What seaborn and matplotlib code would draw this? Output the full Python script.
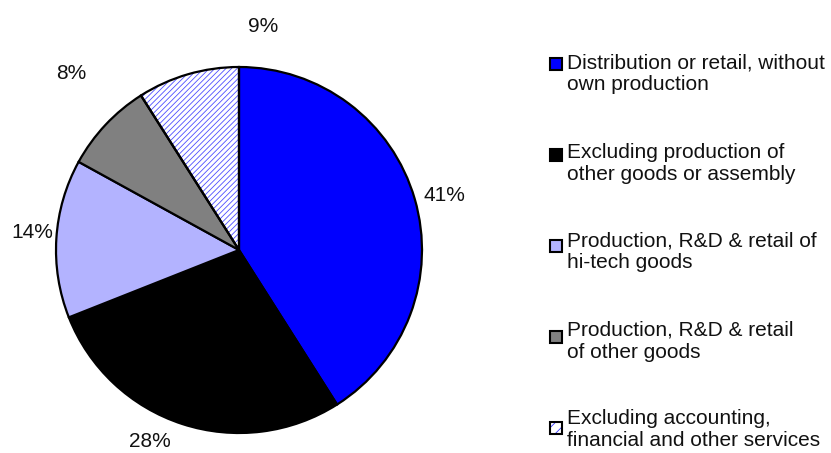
import matplotlib
matplotlib.use("Agg")
import matplotlib.pyplot as plt
from matplotlib.patches import Wedge, Rectangle
import seaborn as sns

# Business activity shares
categories = [
    "Distribution or retail, without\nown production",
    "Excluding production of\nother goods or assembly",
    "Production, R&D & retail of\nhi-tech goods",
    "Production, R&D & retail\nof other goods",
    "Excluding accounting,\nfinancial and other services",
]
shares = [41, 28, 14, 8, 9]
pct_labels = ["41%", "28%", "14%", "8%", "9%"]
colors = ["#0000FF", "#000000", "#B3B3FF", "#808080", "#FFFFFF"]
hatches = [None, None, None, None, "//////"]

# where each percentage label sits, in units of the pie radius
label_xy = [(1.12, 0.30), (-0.486, -1.044), (-1.131, 0.093), (-0.918, 0.967), (0.131, 1.219)]

sns.set_theme(style="white")
plt.rcParams["font.family"] = ["Liberation Sans", "DejaVu Sans"]
plt.rcParams["hatch.linewidth"] = 0.6

W, H, DPI = 831, 453, 100
fig = plt.figure(figsize=(W / DPI, H / DPI), dpi=DPI)
fig.patch.set_facecolor("white")

# pie axes: centre at (239, 250) px from top-left, radius 183 px
R = 183.0
cx, cy = 239.0, 250.0
ax = fig.add_axes([0, 0, (2 * cx) / W, 1])
wedges, _ = ax.pie(
    shares,
    colors=colors,
    startangle=90,
    counterclock=False,
    wedgeprops=dict(edgecolor="black", linewidth=1.6),
)
ax.set_aspect("auto")
ax.set_xlim(-cx / R, cx / R)
ax.set_ylim(-(H - cy) / R, cy / R)
ax.axis("off")

# hatched fill drawn underneath the outlined wedge
for w, h in zip(wedges, hatches):
    if h:
        hw = Wedge(w.center, w.r, w.theta1, w.theta2, facecolor="white",
                   edgecolor="#4D4DFF", hatch=h, linewidth=0, zorder=w.get_zorder() - 0.1)
        ax.add_patch(hw)
        w.set_facecolor("none")

for (x, y), t in zip(label_xy, pct_labels):
    ax.text(x, y, t, ha="center", va="center", fontsize=15, color="#111111")

# legend: square swatch beside each two-line label
sq = 12
x0 = 550
sq_top0, sq_step = 58, 91
txt_top0, txt_step = 57, 89
for i, (lab, c, h) in enumerate(zip(categories, colors, hatches)):
    top = sq_top0 + i * sq_step
    bx, by = x0 / W, (H - top - sq) / H
    bw, bh = sq / W, sq / H
    if h:
        fig.add_artist(Rectangle((bx, by), bw, bh, transform=fig.transFigure,
                                 facecolor="white", edgecolor="#3333FF", hatch="///", linewidth=0))
        fig.add_artist(Rectangle((bx, by), bw, bh, transform=fig.transFigure,
                                 facecolor="none", edgecolor="black", linewidth=1.5))
    else:
        fig.add_artist(Rectangle((bx, by), bw, bh, transform=fig.transFigure,
                                 facecolor=c, edgecolor="black", linewidth=1.5))
    ttop = txt_top0 + i * txt_step
    fig.text((x0 + 17) / W, (H - ttop + 3.5) / H, lab, ha="left", va="top",
             fontsize=15, color="#111111", linespacing=1.2)

fig.savefig("out.png", dpi=DPI, facecolor="white")
